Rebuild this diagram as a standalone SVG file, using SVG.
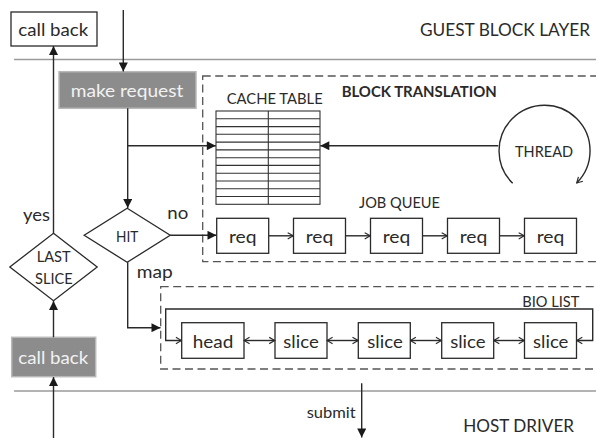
<svg xmlns="http://www.w3.org/2000/svg" width="596" height="438" viewBox="0 0 596 438">
<style>
text{font-family:Lato,"Open Sans",sans-serif;fill:#2a2a2a}
.big{font-size:18px}
.mid{font-size:16px}
.box{fill:#fff;stroke:#2a2a2a;stroke-width:1.3}
.gbox{fill:#8c8c8c;stroke:#b8b8b8;stroke-width:1.5}
.gtxt{fill:#f2f2f2}
.ln{fill:none;stroke:#2a2a2a;stroke-width:1.4}
.layer{stroke:#9a9a9a;stroke-width:1.4}
.dash{fill:none;stroke:#555;stroke-width:1.3;stroke-dasharray:8 4.5}
.tbl{stroke:#333;stroke-width:1.1;fill:none}
</style>
<defs>
<marker id="tri" viewBox="0 0 10 10" refX="10" refY="5" markerWidth="10" markerHeight="9" markerUnits="userSpaceOnUse" orient="auto-start-reverse">
<path d="M0,0 L10,5 L0,10 Z" fill="#1a1a1a"/>
</marker>
<marker id="chev" viewBox="0 0 10 10" refX="9" refY="5" markerWidth="7" markerHeight="9" markerUnits="userSpaceOnUse" orient="auto-start-reverse">
<path d="M1,0.5 L9,5 L1,9.5" fill="none" stroke="#2a2a2a" stroke-width="1.6"/>
</marker>
</defs>

<g id="layers">
<line class="layer" x1="14" y1="59.5" x2="596" y2="59.5"/>
<line class="layer" x1="14" y1="391" x2="596" y2="391"/>
<text x="420" y="36" style="font-size:16.4px" textLength="170" lengthAdjust="spacingAndGlyphs">GUEST BLOCK LAYER</text>
<text class="big" x="463.3" y="432" textLength="110.7" lengthAdjust="spacingAndGlyphs">HOST DRIVER</text>
</g>

<g id="block-translation">
<rect class="dash" x="202.7" y="76" width="410" height="185.7"/>
<text x="341.7" y="96.7" style="font-size:15.5px;font-weight:bold" textLength="155" lengthAdjust="spacingAndGlyphs">BLOCK TRANSLATION</text>
</g>

<g id="bio-list">
<rect class="dash" x="160.7" y="286.7" width="450" height="82.3"/>
<text class="mid" x="522.3" y="306.7" textLength="57" lengthAdjust="spacingAndGlyphs">BIO LIST</text>
</g>

<g id="cache-table">
<text class="mid" x="226.7" y="104.3" textLength="96" lengthAdjust="spacingAndGlyphs">CACHE TABLE</text>
<rect class="tbl" x="216" y="111" width="104" height="93.3"/>
<path class="tbl" d="M268.3,111V204.3 M216,118.8H320 M216,126.6H320 M216,134.3H320 M216,142.1H320 M216,149.9H320 M216,157.7H320 M216,165.4H320 M216,173.2H320 M216,181H320 M216,188.8H320 M216,196.5H320"/>
</g>

<g id="thread">
<path class="ln" d="M512.7,183.3 A45.5,45.5 0 1 1 576.7,183" marker-end="url(#chev)"/>
<text class="mid" x="515" y="157.3" textLength="58" lengthAdjust="spacingAndGlyphs">THREAD</text>
</g>

<g id="call-back-top">
<rect class="box" x="11" y="12" width="86" height="34"/>
<text class="big" x="18.3" y="36" textLength="70" lengthAdjust="spacingAndGlyphs">call back</text>
</g>

<g id="make-request">
<rect class="gbox" x="59" y="71.7" width="137" height="36.6"/>
<text class="big gtxt" x="70.7" y="96.5" textLength="112.6" lengthAdjust="spacingAndGlyphs">make request</text>
</g>

<g id="hit">
<path class="box" d="M127.2,208.3 L170.2,235.3 L127.2,262.3 L84.2,235.3 Z"/>
<text x="116" y="242.3" style="font-size:15px" textLength="22.3" lengthAdjust="spacingAndGlyphs">HIT</text>
</g>

<g id="last-slice">
<path class="box" d="M53.5,233.3 L97.2,267 L53.5,300.7 L9.8,267 Z"/>
<text class="mid" x="36.7" y="262.3" textLength="34" lengthAdjust="spacingAndGlyphs">LAST</text>
<text class="mid" x="35" y="284" textLength="37.7" lengthAdjust="spacingAndGlyphs">SLICE</text>
</g>

<g id="call-back-bottom">
<rect class="gbox" x="11.7" y="337.3" width="84" height="39.4"/>
<text class="big gtxt" x="18.3" y="364" textLength="70" lengthAdjust="spacingAndGlyphs">call back</text>
</g>

<g id="job-queue">
<text class="mid" x="359" y="208.3" textLength="81" lengthAdjust="spacingAndGlyphs">JOB QUEUE</text>
</g>
<g id="req1"><rect class="box" x="216.7" y="218.3" width="52" height="35"/><text class="big" x="228.9" y="243" textLength="27.6" lengthAdjust="spacingAndGlyphs">req</text></g>
<g id="req2"><rect class="box" x="293.5" y="218.3" width="52" height="35"/><text class="big" x="305.7" y="243" textLength="27.6" lengthAdjust="spacingAndGlyphs">req</text></g>
<g id="req3"><rect class="box" x="370.5" y="218.3" width="52" height="35"/><text class="big" x="382.7" y="243" textLength="27.6" lengthAdjust="spacingAndGlyphs">req</text></g>
<g id="req4"><rect class="box" x="447.5" y="218.3" width="52" height="35"/><text class="big" x="459.7" y="243" textLength="27.6" lengthAdjust="spacingAndGlyphs">req</text></g>
<g id="req5"><rect class="box" x="524.5" y="218.3" width="52" height="35"/><text class="big" x="536.7" y="243" textLength="27.6" lengthAdjust="spacingAndGlyphs">req</text></g>

<g id="head"><rect class="box" x="181.7" y="322.7" width="62.3" height="35.6"/><text class="big" x="192.7" y="347.5" textLength="40.6" lengthAdjust="spacingAndGlyphs">head</text></g>
<g id="slice1"><rect class="box" x="275" y="322.7" width="52" height="35.6"/><text class="big" x="283.3" y="347.5" textLength="35.4" lengthAdjust="spacingAndGlyphs">slice</text></g>
<g id="slice2"><rect class="box" x="358.3" y="322.7" width="52" height="35.6"/><text class="big" x="367.3" y="347.5" textLength="35.4" lengthAdjust="spacingAndGlyphs">slice</text></g>
<g id="slice3"><rect class="box" x="441.7" y="322.7" width="52" height="35.6"/><text class="big" x="450.2" y="347.5" textLength="35.4" lengthAdjust="spacingAndGlyphs">slice</text></g>
<g id="slice4"><rect class="box" x="524.5" y="322.7" width="52" height="35.6"/><text class="big" x="533" y="347.5" textLength="35.4" lengthAdjust="spacingAndGlyphs">slice</text></g>

<g id="labels">
<text class="big" x="23" y="220.5" textLength="27" lengthAdjust="spacingAndGlyphs">yes</text>
<text class="big" x="167.3" y="219.3" textLength="21" lengthAdjust="spacingAndGlyphs">no</text>
<text class="big" x="136.7" y="277.5" textLength="36" lengthAdjust="spacingAndGlyphs">map</text>
<text class="mid" x="306.7" y="418.3" textLength="49" lengthAdjust="spacingAndGlyphs">submit</text>
</g>

<g id="connectors">
<path class="ln" d="M123.3,10 V71.5" marker-end="url(#tri)"/>
<path class="ln" d="M127.7,108.3 V208" marker-end="url(#tri)"/>
<path class="ln" d="M127.7,145.7 H215.8" marker-end="url(#tri)"/>
<path class="ln" d="M498.3,145.7 H320.3" marker-end="url(#tri)"/>
<path class="ln" d="M170.2,235.3 H216.5" marker-end="url(#tri)"/>
<path class="ln" d="M127.7,262.3 V327.7 H160.5" marker-end="url(#tri)"/>
<path class="ln" d="M53.5,233.3 V46" marker-end="url(#tri)"/>
<path class="ln" d="M53.5,337.3 V301" marker-end="url(#tri)"/>
<path class="ln" d="M53.5,438 V377" marker-end="url(#tri)"/>
<path class="ln" d="M361.7,383.3 V437.5" marker-end="url(#tri)"/>
<path class="ln" d="M268.7,235.8 H293.3" marker-end="url(#chev)"/>
<path class="ln" d="M345.5,235.8 H370.3" marker-end="url(#chev)"/>
<path class="ln" d="M422.5,235.8 H447.3" marker-end="url(#chev)"/>
<path class="ln" d="M499.5,235.8 H524.3" marker-end="url(#chev)"/>
<path class="ln" d="M244,340.5 H274.8" marker-start="url(#chev)" marker-end="url(#chev)"/>
<path class="ln" d="M327,340.5 H358.1" marker-start="url(#chev)" marker-end="url(#chev)"/>
<path class="ln" d="M410.3,340.5 H441.5" marker-start="url(#chev)" marker-end="url(#chev)"/>
<path class="ln" d="M493.7,340.5 H524.3" marker-start="url(#chev)" marker-end="url(#chev)"/>
<path class="ln" d="M181.5,340.5 H165.7 V309 H592.7 V340.5 H576.7" marker-start="url(#chev)" marker-end="url(#chev)"/>
</g>
</svg>
